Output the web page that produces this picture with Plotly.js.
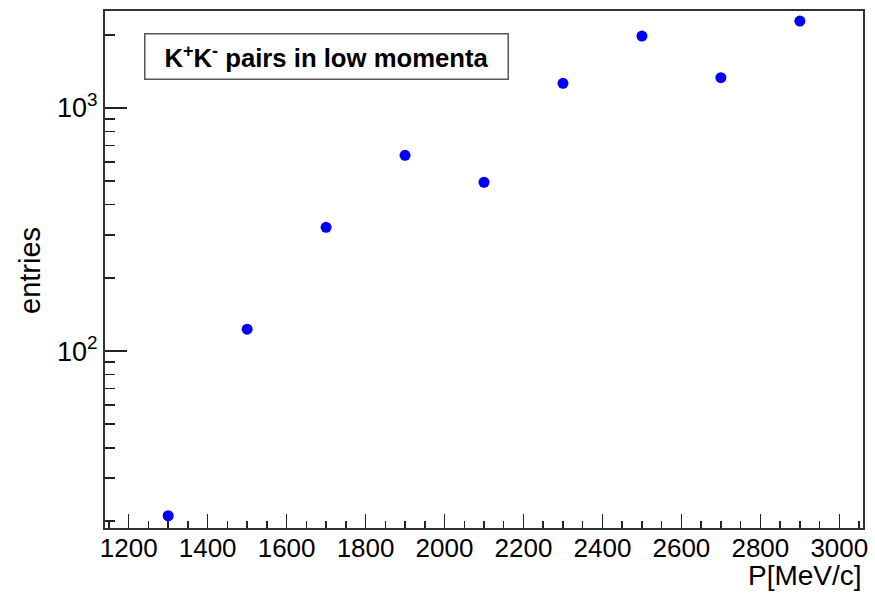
<!DOCTYPE html>
<html>
<head>
<meta charset="utf-8">
<script src="https://cdn.plot.ly/plotly-3.0.1.min.js"></script>
<style>html,body{margin:0;padding:0;background:#fff;}#chart{width:875px;height:593px;}</style>
</head>
<body>
<div id="chart"></div>
<script>
// Data
const momentum = [1300, 1500, 1700, 1900, 2100, 2300, 2500, 2700, 2900];
const entries  = [21, 123, 323, 639, 495, 1264, 1978, 1333, 2280];

const xTickVals = [1200, 1400, 1600, 1800, 2000, 2200, 2400, 2600, 2800, 3000];
const xTickText = ["1200", "1400", "1600", "1800", "2000", "2200", "2400", "2600", "2800", "3000"];
const yTickVals = [100, 1000];
const yTickText = ["10<sup>2</sup>", "10<sup>3</sup>"];
const yMinorVals = [20, 30, 40, 50, 60, 70, 80, 90, 200, 300, 400, 500, 600, 700, 800, 900, 2000];

const legendText = "<b>K<sup>+</sup>K<sup>-</sup> pairs in low momenta</b>";
const xTitle = "P[MeV/c]";
const yTitle = "entries";

const FONT = "Liberation Sans, Arial, Helvetica, sans-serif";

const trace = {
  x: momentum, y: entries, type: "scatter", mode: "markers",
  marker: {color: "#0000ff", size: 11, symbol: "circle"},
  hoverinfo: "skip", showlegend: false
};

const layout = {
  width: 875, height: 593,
  margin: {l: 105, r: 12, t: 11, b: 65},
  paper_bgcolor: "#fff", plot_bgcolor: "#fff",
  font: {family: FONT, color: "#000", size: 25},
  showlegend: false,
  xaxis: {
    range: [1140, 3060], type: "linear",
    tickmode: "array", tickvals: xTickVals, ticktext: xTickText,
    ticks: "inside", ticklen: 14, tickwidth: 1.5, tickcolor: "#222",
    minor: {tickmode: "linear", tick0: 1150, dtick: 50, ticks: "inside", ticklen: 7, tickwidth: 1.5, tickcolor: "#222", showgrid: false},
    showline: true, linecolor: "#333", linewidth: 2, mirror: true,
    showgrid: false, zeroline: false, ticklabelstandoff: -4,
    tickfont: {family: FONT, size: 26, color: "#000"}
  },
  yaxis: {
    type: "log", range: [Math.log10(18.7), Math.log10(2508)],
    tickmode: "array", tickvals: yTickVals, ticktext: yTickText,
    ticks: "inside", ticklen: 22, tickwidth: 1.5, tickcolor: "#222",
    minor: {tickmode: "array", tickvals: yMinorVals, ticks: "inside", ticklen: 10, tickwidth: 1.5, tickcolor: "#222", showgrid: false},
    showline: true, linecolor: "#333", linewidth: 2, mirror: true,
    showgrid: false, zeroline: false,
    tickfont: {family: FONT, size: 27, color: "#000"}
  },
  annotations: [
    {
      xref: "paper", yref: "paper", x: 0.0515, y: 0.957, xanchor: "left", yanchor: "top",
      text: legendText, showarrow: false,
      font: {family: FONT, size: 25.7, color: "#000"},
      bgcolor: "#fff", bordercolor: "#555", borderwidth: 1.5, borderpad: 0,
      width: 362, height: 44, align: "center", valign: "middle"
    },
    {
      xref: "paper", yref: "paper", x: 1.0, y: -0.124, xanchor: "right", yanchor: "bottom",
      text: xTitle, showarrow: false, borderpad: 0,
      font: {family: FONT, size: 28, color: "#000"}
    },
    {
      xref: "paper", yref: "paper", x: -0.099, y: 0.499, xanchor: "center", yanchor: "middle",
      text: yTitle, showarrow: false, textangle: -90,
      font: {family: FONT, size: 29, color: "#000"}
    }
  ]
};

Plotly.newPlot("chart", [trace], layout, {staticPlot: true, displayModeBar: false});
</script>
</body>
</html>
